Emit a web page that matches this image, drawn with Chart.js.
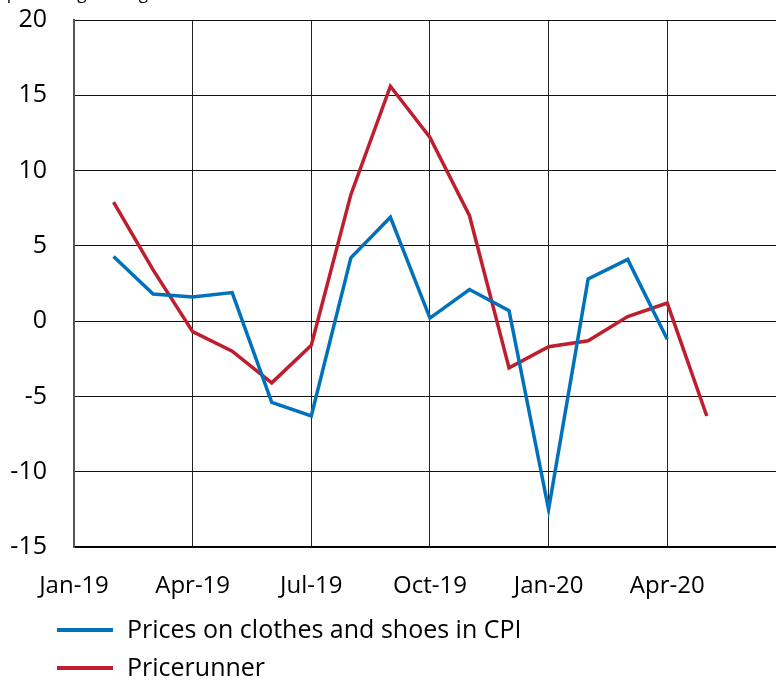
<!DOCTYPE html>
<html>
<head>
<meta charset="utf-8">
<script src="https://cdn.jsdelivr.net/npm/chart.js@4.4.1/dist/chart.umd.min.js"></script>
<style>
  html, body { margin: 0; padding: 0; background: #fff; overflow: hidden; }
  #wrap { width: 776px; height: 684px; position: relative; }
</style>
</head>
<body>
<div id="wrap"><canvas id="c" width="776" height="684"></canvas></div>
<script>
// Months on the x axis (index 0 = Jan-19)
const months = ['Jan-19','Feb-19','Mar-19','Apr-19','May-19','Jun-19','Jul-19','Aug-19','Sep-19',
                'Oct-19','Nov-19','Dec-19','Jan-20','Feb-20','Mar-20','Apr-20','May-20'];
// Series values
const cpiClothesShoes = [null, 4.3, 1.8, 1.6, 1.9, -5.4, -6.3, 4.2, 6.9, 0.2, 2.1, 0.7, -12.5, 2.8, 4.1, -1.2, null];
const pricerunner     = [null, 7.9, 3.4, -0.7, -2.0, -4.1, -1.6, 8.4, 15.6, 12.2, 7.0, -3.1, -1.7, -1.3, 0.3, 1.2, -6.3];
// Tick labels
const xTickLabels = ['Jan-19','Apr-19','Jul-19','Oct-19','Jan-20','Apr-20'];
const yTicks = [-15, -10, -5, 0, 5, 10, 15, 20];
const seriesNames = ['Prices on clothes and shoes in CPI', 'Pricerunner'];
const unitText = 'Monthly percentage change';

const colors = ['#0072BB', '#BE1E2D'];
const FONT = '"Open Sans", "DejaVu Sans", sans-serif';

function toPoints(arr) {
  return arr.map((v, i) => ({ x: i, y: v }));
}

const legendPlugin = {
  id: 'customLegend',
  afterDraw(chart) {
    const ctx = chart.ctx;
    ctx.save();
    // clipped unit text at very top
    ctx.font = '17px ' + FONT;
    ctx.fillStyle = '#000';
    ctx.textBaseline = 'alphabetic';
    ctx.textAlign = 'left';
    ctx.fillText(unitText, -63, -1);
    // legend
    const rows = [630, 668];
    chart.data.datasets.forEach((ds, i) => {
      const y = rows[i];
      ctx.strokeStyle = ds.borderColor;
      ctx.lineWidth = 4;
      ctx.beginPath();
      ctx.moveTo(57, y);
      ctx.lineTo(113, y);
      ctx.stroke();
      ctx.font = '25px ' + FONT;
      ctx.fillStyle = '#000';
      ctx.textBaseline = 'middle';
      ctx.fillText(ds.label, 127, y + 1);
    });
    ctx.restore();
  }
};

new Chart(document.getElementById('c'), {
  type: 'line',
  data: {
    datasets: [
      { label: seriesNames[0], data: toPoints(cpiClothesShoes), borderColor: colors[0], backgroundColor: colors[0],
        borderWidth: 3.5, pointRadius: 0, tension: 0, spanGaps: false },
      { label: seriesNames[1], data: toPoints(pricerunner), borderColor: colors[1], backgroundColor: colors[1],
        borderWidth: 3.5, pointRadius: 0, tension: 0, spanGaps: false }
    ]
  },
  options: {
    responsive: false,
    animation: false,
    devicePixelRatio: 1,
    layout: { autoPadding: false, padding: { top: 20, right: 0, bottom: 0, left: 0 } },
    plugins: { legend: { display: false }, tooltip: { enabled: false } },
    scales: {
      x: {
        type: 'linear',
        min: 0,
        max: 17.75,
        afterBuildTicks(scale) {
          scale.ticks = xTickLabels.map(l => ({ value: months.indexOf(l) }));
        },
        afterFit(scale) { scale.height = 137; scale.paddingTop = 0; scale.paddingBottom = 0; },
        ticks: {
          callback: (v) => months[v],
          font: { family: FONT, size: 24 },
          color: '#000',
          padding: 25,
          maxRotation: 0,
          autoSkip: false
        },
        grid: { color: '#222', lineWidth: 1, drawTicks: false },
        border: { color: '#000', width: 1.5 }
      },
      y: {
        min: -15,
        max: 20,
        afterBuildTicks(scale) {
          scale.ticks = yTicks.map(v => ({ value: v }));
        },
        afterFit(scale) { scale.width = 74; scale.paddingTop = 0; scale.paddingBottom = 0; },
        ticks: {
          font: { family: FONT, size: 25 },
          color: '#000',
          padding: 27
        },
        grid: { color: '#111', lineWidth: 1, drawTicks: false },
        border: { color: '#555', width: 2 }
      }
    }
  },
  plugins: [legendPlugin]
});
</script>
</body>
</html>
